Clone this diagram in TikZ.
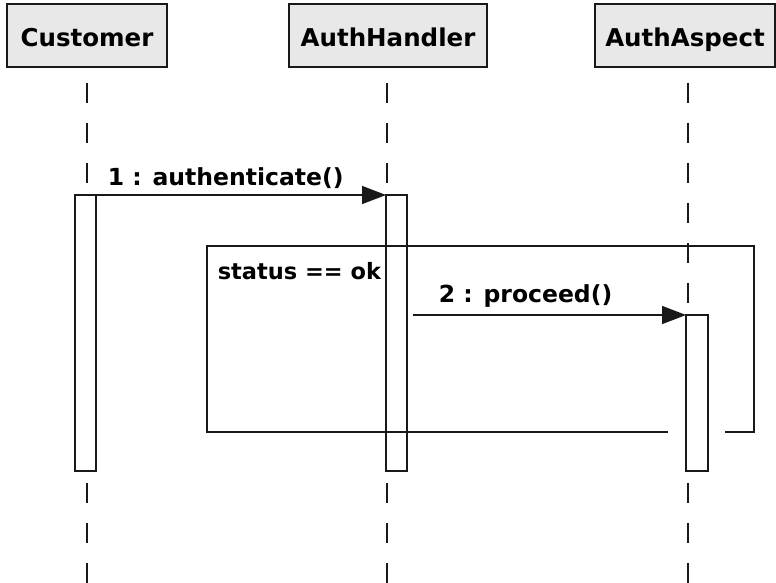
\documentclass[tikz,border=0pt]{standalone}
\usepackage{fontspec}
\setmainfont{DejaVu Sans}
\usetikzlibrary{arrows.meta,calc}
\definecolor{hdrfill}{RGB}{232,232,232}
\definecolor{ink}{RGB}{25,25,25}
\begin{document}
\begin{tikzpicture}[x=1pt,y=-1pt,
  line width=1.5pt,
  hdr/.style={draw=ink, fill=hdrfill, minimum width=#1, minimum height=63pt,
    inner sep=0pt, outer sep=0pt, text height=23pt, text depth=0pt,
    font=\bfseries\fontsize{24.5}{28}\selectfont},
  actbox/.style={draw=ink, fill=white, minimum width=21pt, inner sep=0pt,
    outer sep=0pt, anchor=north west},
  lifeline/.style={draw=ink, dash pattern=on 20pt off 20pt},
  msg/.style={draw=ink, -{Triangle[length=24pt,width=18pt]}},
  lbl/.style={font=\bfseries\fontsize{23.5}{28}\selectfont, inner sep=0pt,
    anchor=base west},
  framebox/.style={draw=ink},
]
\useasboundingbox (0,0) rectangle (776,583);

% headers
\node[hdr=160pt] (cust) at (87,35.5) {Customer};
\node[hdr=198pt] (hand) at (388,35.5) {AuthHandler};
\node[hdr=180pt] (asp) at (685,35.5) {AuthAspect};

% lifelines
\coordinate (ct) at (87,83);   \coordinate (cb) at (87,583);
\coordinate (ht) at (387,83);  \coordinate (hb) at (387,583);
\coordinate (at) at (688,83);  \coordinate (ab) at (688,583);
\draw[lifeline] (ct) -- (cb);
\draw[lifeline] (ht) -- (hb);
\draw[lifeline] (at) -- (ab);

% activations
\node[actbox, minimum height=276pt] (cact) at (75,195) {};
\node[actbox, minimum height=276pt] (hact) at (386,195) {};
\node[actbox, minimum width=22pt, minimum height=156pt] (aact) at (686,315) {};

% opt frame
\coordinate (fTL) at (207,246);
\coordinate (fBR) at (754,432);
\coordinate (gapL) at (668,432);
\coordinate (gapR) at (725,432);
\draw[framebox] (gapL) -- (fTL |- fBR) -- (fTL) -- (fTL -| fBR) -- (fBR) -- (gapR);
\node[lbl, font=\bfseries\fontsize{22.5}{27}\selectfont] (guard) at (217,279) {status == ok};

% messages
\draw[msg] (cact.north west) -- (hact.north west);
\node[lbl] (m1) at (107,185) {1 : authenticate()};
\coordinate (m2s) at (413,315);
\draw[msg] (m2s) -- (aact.north west);
\node[lbl] (m2) at (438,302) {2 : proceed()};
\end{tikzpicture}
\end{document}
